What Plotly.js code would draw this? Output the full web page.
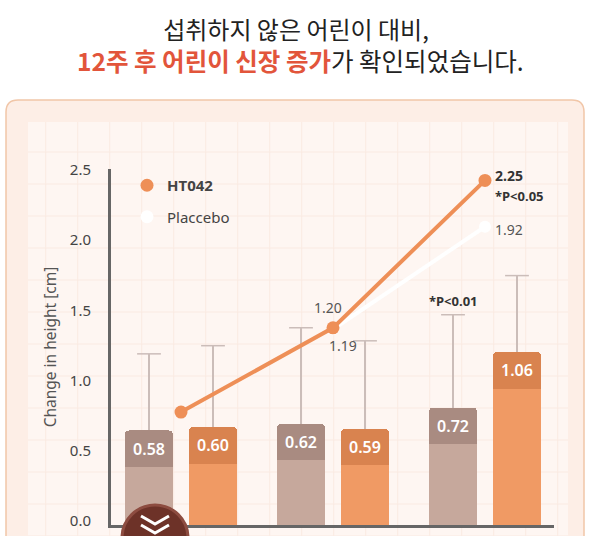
<!DOCTYPE html>
<html><head><meta charset="utf-8">
<script src="https://cdn.plot.ly/plotly-3.0.1.min.js"></script>
<style>html,body{margin:0;padding:0;background:#fff}#chart{width:592px;height:536px}</style>
</head><body><div id="chart"></div>
<script>
// ---- data ----
const groups = [0, 1, 2];
const placeboBars = [0.58, 0.62, 0.72];
const ht042Bars = [0.60, 0.59, 1.06];
const placeboErr = [0.47, 0.59, 0.57];
const ht042Err = [0.50, 0.54, 0.47];
const ht042Line = [0.60, 1.20, 2.25];
const placeboLine = [null, 1.19, 1.92];
const yTickVals = [0, 0.5, 1.0, 1.5, 2.0, 2.5];
const seriesNames = ['HT042', 'Placcebo'];
const titleLine1 = '섭취하지 않은 어린이 대비,';
const titleLine2Hi = '12주 후 어린이 신장 증가';
const titleLine2Rest = '가 확인되었습니다.';
const yTitle = 'Change in height [cm]';

// ---- style constants ----
const W = 592, H = 536;
const M = {l: 111, r: 38, t: 169, b: 11};
const PW = W - M.l - M.r, PH = H - M.t - M.b;
const BAR_W = 0.314, OFF = 0.2105, BAND = 0.223;
const ORANGE = '#ee8f57', ORANGE_LIGHT = '#f09a64', ORANGE_DARK = '#d9834f';
const TAUPE_LIGHT = '#c6a89c', TAUPE_DARK = '#a98b81';
const ERR_COLOR = '#cbbdb9';
const LATIN = 'Noto Sans, Open Sans, sans-serif';
const KR = 'Noto Sans CJK KR, sans-serif';

const px = x => (x - M.l) / PW;
const py = y => (H - M.b - y) / PH;

function barPair(x, vals, err, light, dark) {
  return [
    {type: 'bar', x: x, y: vals.map(v => v - BAND), width: BAR_W, yaxis: 'y2',
     marker: {color: light}, showlegend: false, hoverinfo: 'skip'},
    {type: 'bar', x: x, y: vals.map(() => BAND), width: BAR_W, yaxis: 'y2',
     marker: {color: dark}, showlegend: false, hoverinfo: 'skip',
     text: vals.map(v => v.toFixed(2)), textposition: 'inside', insidetextanchor: 'middle',
     textfont: {color: '#ffffff', size: 16, family: LATIN, weight: 600},
     error_y: {type: 'data', symmetric: false, array: err, arrayminus: err.map(() => 0),
               color: ERR_COLOR, thickness: 1.5, width: 0}},
    // caps of the upper error bars
    {type: 'scatter', mode: 'markers', x: x, y: vals.map((v, i) => v + err[i]), yaxis: 'y2',
     marker: {symbol: 'line-ew', size: 17, line: {color: ERR_COLOR, width: 1.5}},
     showlegend: false, hoverinfo: 'skip'}
  ];
}

const xPl = groups.map(g => g - OFF);
const xHt = groups.map(g => g + OFF);

const traces = [
  ...barPair(xPl, placeboBars, placeboErr, TAUPE_LIGHT, TAUPE_DARK),
  ...barPair(xHt, ht042Bars, ht042Err, ORANGE_LIGHT, ORANGE_DARK),
  {type: 'scatter', mode: 'lines+markers', x: groups, y: placeboLine, yaxis: 'y3',
   line: {color: '#ffffff', width: 4}, marker: {color: '#ffffff', size: 12},
   showlegend: false, hoverinfo: 'skip'},
  {type: 'scatter', mode: 'lines+markers', x: groups, y: ht042Line, yaxis: 'y3',
   line: {color: ORANGE, width: 4}, marker: {color: ORANGE, size: 13},
   showlegend: false, hoverinfo: 'skip'},
  {type: 'scatter', mode: 'markers', x: [null], y: [null], name: '<b>' + seriesNames[0] + '</b>',
   marker: {color: ORANGE, size: 13}, legendgroup: 'a'},
  {type: 'scatter', mode: 'markers', x: [null], y: [null], name: seriesNames[1],
   marker: {color: '#ffffff', size: 13}, legendgroup: 'b'}
];

function rrect(x0, y0, x1, y1, r) {
  return `M ${px(x0 + r)},${py(y0)} L ${px(x1 - r)},${py(y0)} Q ${px(x1)},${py(y0)} ${px(x1)},${py(y0 + r)} ` +
         `L ${px(x1)},${py(y1)} L ${px(x0)},${py(y1)} L ${px(x0)},${py(y0 + r)} Q ${px(x0)},${py(y0)} ${px(x0 + r)},${py(y0)} Z`;
}

const shapes = [
  {type: 'path', xref: 'paper', yref: 'paper', path: rrect(6, 100, 584, 560, 12),
   fillcolor: '#fdeee6', line: {color: '#f1c6a8', width: 1.5}, layer: 'below'},
  {type: 'rect', xref: 'paper', yref: 'paper', x0: px(28), x1: px(568), y0: py(122), y1: py(560),
   fillcolor: '#fef6f2', line: {width: 0}, layer: 'below'}
];
for (let gx = 45.7; gx < 568; gx += 32) {
  shapes.push({type: 'line', xref: 'paper', yref: 'paper', x0: px(gx), x1: px(gx), y0: py(122), y1: py(560),
               line: {color: '#faeae2', width: 1}, layer: 'below'});
}
for (let gy = 152; gy < 560; gy += 32) {
  shapes.push({type: 'line', xref: 'paper', yref: 'paper', x0: px(28), x1: px(568), y0: py(gy), y1: py(gy),
               line: {color: '#faeae2', width: 1}, layer: 'below'});
}
// scroll-down button overlay
shapes.push({type: 'circle', xref: 'paper', yref: 'paper', x0: px(122), x1: px(188), y0: py(505), y1: py(571),
             fillcolor: '#6d3228', line: {color: '#8d4c40', width: 3}, layer: 'above'});
[516, 525].forEach(y => shapes.push({type: 'path', xref: 'paper', yref: 'paper',
  path: `M ${px(141)},${py(y)} L ${px(155)},${py(y + 8)} L ${px(169)},${py(y)}`,
  line: {color: '#ffffff', width: 3}, layer: 'above'}));

const ann = (o) => Object.assign({showarrow: false, xref: 'x', yref: 'y3'}, o);
const annotations = [
  {xref: 'paper', yref: 'paper', x: px(300), y: py(61), showarrow: false, xanchor: 'center', yanchor: 'middle',
   text: '<span style="color:#e2553b"><b>' + titleLine2Hi + '</b></span>' + titleLine2Rest,
   font: {family: KR, size: 24.5, color: '#222222'}},
  ann({x: groups[1], y: ht042Line[1], text: ht042Line[1].toFixed(2), xshift: -5, yshift: 20,
       font: {family: LATIN, size: 14, color: '#555555'}}),
  ann({x: groups[1], y: placeboLine[1], text: placeboLine[1].toFixed(2), xshift: 10, yshift: -16,
       font: {family: LATIN, size: 14, color: '#555555'}}),
  ann({x: groups[2], y: ht042Line[2], text: '<b>' + ht042Line[2].toFixed(2) + '</b>', xanchor: 'left', xshift: 8, yshift: 5,
       font: {family: LATIN, size: 14, color: '#333333'}}),
  ann({x: groups[2], y: ht042Line[2], text: '<b>*P<0.05</b>', xanchor: 'left', xshift: 8, yshift: -16,
       font: {family: LATIN, size: 13, color: '#333333'}}),
  ann({x: groups[2], y: placeboLine[2], text: placeboLine[2].toFixed(2), xanchor: 'left', xshift: 8, yshift: -3,
       font: {family: LATIN, size: 14, color: '#555555'}}),
  ann({x: xPl[2], y: placeboBars[2] + placeboErr[2], yref: 'y2', text: '<b>*P<0.01</b>', yshift: 14,
       font: {family: LATIN, size: 13, color: '#333333'}})
];

const layout = {
  width: W, height: H,
  margin: M,
  paper_bgcolor: '#ffffff', plot_bgcolor: 'rgba(0,0,0,0)',
  title: {text: titleLine1, font: {family: KR, size: 24, color: '#222222'},
          xref: 'container', x: 0.5, xanchor: 'center', yref: 'container', y: 1 - 31 / H, yanchor: 'middle'},
  barmode: 'stack', barcornerradius: 4,
  showlegend: true,
  legend: {x: px(127), y: py(169), xanchor: 'left', yanchor: 'top', bgcolor: 'rgba(0,0,0,0)',
           font: {family: LATIN, size: 15, color: '#444444'}, traceorder: 'grouped', tracegroupgap: 9},
  xaxis: {range: [-0.4605, 2.454], showline: true, linecolor: '#666666', linewidth: 3,
          showticklabels: false, ticks: '', showgrid: false, zeroline: false, fixedrange: true},
  yaxis: {range: [-0.0285, 2.507], tickvals: yTickVals, tickformat: '.1f', showline: true,
          linecolor: '#666666', linewidth: 3, ticks: 'outside', ticklen: 14, tickcolor: 'rgba(0,0,0,0)',
          tickfont: {family: LATIN, size: 15, color: '#444444'}, showgrid: false, zeroline: false,
          title: {text: yTitle, font: {family: LATIN, size: 15.5, color: '#555555'}, standoff: 10}},
  yaxis2: {range: [0, 2.184], overlaying: 'y', visible: false, showgrid: false, zeroline: false},
  yaxis3: {range: [-0.204, 2.331], overlaying: 'y', visible: false, showgrid: false, zeroline: false},
  shapes: shapes,
  annotations: annotations
};

Plotly.newPlot('chart', traces, layout, {displayModeBar: false, staticPlot: true});
</script>
</body></html>
